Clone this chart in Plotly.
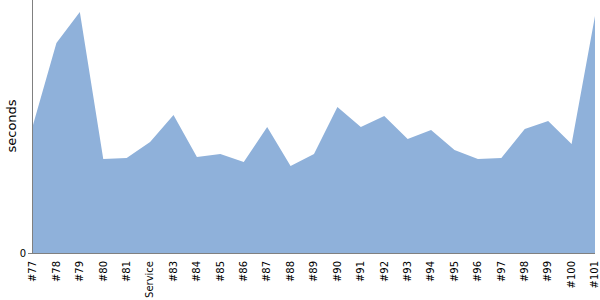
import plotly.graph_objects as go

labels = ["#77", "#78", "#79", "#80", "#81", "Service", "#83", "#84", "#85", "#86",
          "#87", "#88", "#89", "#90", "#91", "#92", "#93", "#94", "#95", "#96",
          "#97", "#98", "#99", "#100", "#101"]
seconds = [128, 210, 241, 94, 95, 111, 138, 96, 99, 91,
           126, 87, 99, 146, 126, 137, 114, 123, 103, 94,
           95, 124, 132, 109, 237]

fig = go.Figure()
fig.add_trace(go.Scatter(
    x=labels, y=seconds, mode="lines", fill="tozeroy",
    fillcolor="rgb(143,177,218)", line=dict(width=0, color="rgb(143,177,218)"),
    hoverinfo="x+y",
))
fig.update_layout(
    width=600, height=300,
    margin=dict(l=33, r=5, t=0, b=47),
    plot_bgcolor="white", paper_bgcolor="white",
    showlegend=False,
    font=dict(family="DejaVu Sans", color="black"),
)
fig.add_annotation(
    text="seconds", xref="paper", yref="paper",
    x=(11 - 33) / 562, y=0.5, xanchor="center", yanchor="middle",
    textangle=-90, showarrow=False, font=dict(size=13),
)
fig.update_xaxes(
    type="category", range=[0, len(labels) - 1],
    tickangle=-90, tickfont=dict(size=10),
    showgrid=False, zeroline=False,
    showline=True, linecolor="#808080", linewidth=1,
    ticks="", ticklen=0, ticklabelstandoff=3,
)
fig.update_yaxes(
    range=[0, 253], tickvals=[0], ticktext=["0"],
    tickfont=dict(size=10),
    showgrid=False, zeroline=False,
    showline=True, linecolor="#808080", linewidth=1,
    ticks="outside", ticklen=4, tickcolor="#808080",
)
fig.write_html("out.html")
